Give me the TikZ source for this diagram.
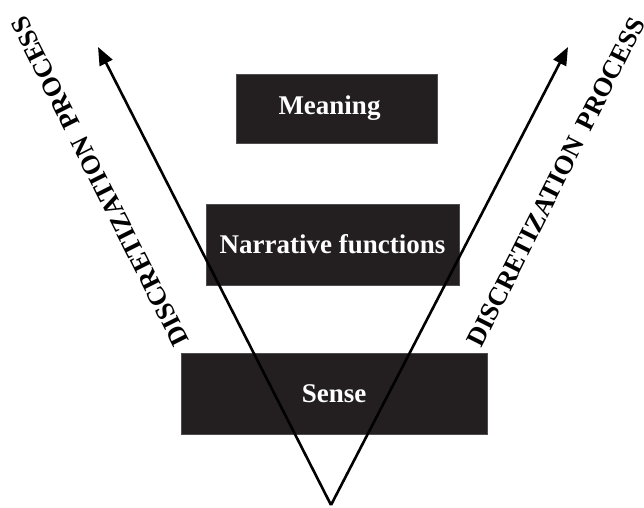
\documentclass[tikz,border=0pt]{standalone}
\usepackage{fontspec}
\setmainfont{Liberation Serif}
\usetikzlibrary{arrows.meta}
\definecolor{boxblack}{HTML}{231F20}
\tikzset{
    levelbox/.style={fill=boxblack, draw=boxblack!80!white, text=white, inner sep=0pt,
        font=\fontsize{27}{32}\selectfont\bfseries},
    proclabel/.style={inner sep=0pt, font=\fontsize{26.5}{32}\selectfont\bfseries},
    procarrow/.style={line width=2.6pt, arrows={-Triangle[length=18pt, width=14pt]}},
}
\begin{document}
\begin{tikzpicture}[x=1pt, y=1pt]
        \useasboundingbox (0,0) rectangle (644,507);

        \node[levelbox, minimum width=201pt, minimum height=69pt] (meaning) at (336.5,398.5) {Meaning\hspace*{14pt}};
        \node[levelbox, minimum width=253pt, minimum height=81pt] (narr) at (332.5,262.5) {Narrative functions};
        \node[levelbox, minimum width=306pt, minimum height=81pt] (sense) at (334,113.5) {Sense};

        \coordinate (apex) at (331,2);
        \coordinate (lefttip) at (98,460);
        \coordinate (righttip) at (568,460);

        \draw[procarrow] (apex) -- (lefttip);
        \draw[procarrow] (apex) -- (righttip);

%        labels along the two arrows
        \node[proclabel, rotate=116.7] (leftproc) at (100,325.5) {DISCRETIZATION\hspace{0.45em}PROCESS};
        \node[proclabel, rotate=63.3] (rightproc) at (556,325) {DISCRETIZATION\hspace{0.45em}PROCESS};

    \end{tikzpicture}
\end{document}
